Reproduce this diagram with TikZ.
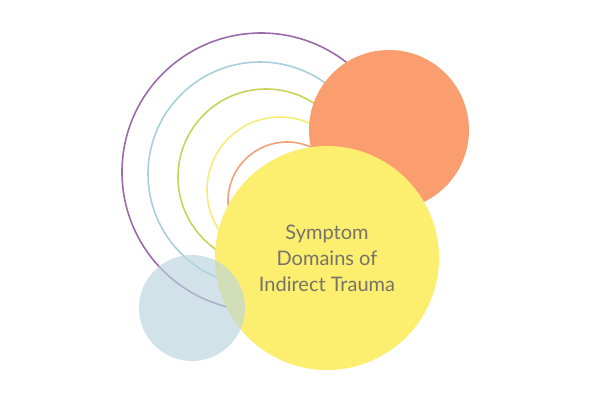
\documentclass[tikz,border=0pt]{standalone}
\usepackage{fontspec}
\setmainfont{Lato}
\definecolor{purp}{HTML}{9B6AA8}
\definecolor{lblue}{HTML}{A8D0DC}
\definecolor{lgreen}{HTML}{C9D25A}
\definecolor{lyel}{HTML}{F7EC7A}
\definecolor{lor}{HTML}{F4A07A}
\definecolor{bigor}{HTML}{FA9E70}
\definecolor{bigyel}{HTML}{FCEE6E}
\definecolor{grayblue}{HTML}{B9D5DE}
\definecolor{txt}{HTML}{77736A}
\tikzset{ring/.style={line width=1.6pt}}
\begin{document}
\begin{tikzpicture}[x=1pt,y=-1pt]
\useasboundingbox[fill=white] (0,0) rectangle (600,400);
\draw[ring,purp] (261,172) circle[radius=139];
\draw[ring,lblue] (260,174) circle[radius=112];
\draw[ring,lgreen] (266,177) circle[radius=88];
\draw[ring,lyel] (280,190) circle[radius=73];
\draw[ring,lor] (287,201) circle[radius=59];
\fill[bigor] (389,130) circle[radius=80];
\fill[bigyel] (327,258) circle[radius=112];
\fill[grayblue,opacity=0.65] (192,308) circle[radius=53];
\node[text=txt,align=center,font=\fontsize{20}{26}\selectfont] (t) at (327,258) {Symptom\\Domains of\\Indirect Trauma};
\end{tikzpicture}
\end{document}
